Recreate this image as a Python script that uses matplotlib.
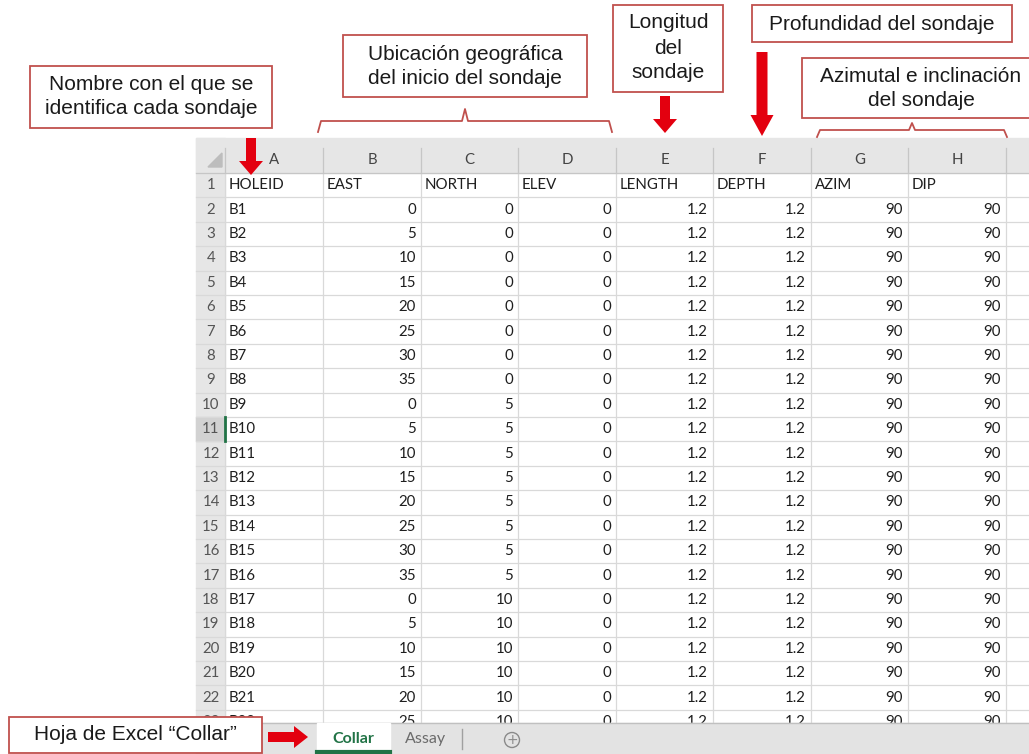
import matplotlib
matplotlib.use("Agg")
import matplotlib.pyplot as plt
from matplotlib.patches import Rectangle, FancyArrow, Circle

# Sheet data ("Collar"); the last hole (B22) is only half visible above the tab bar
col_letters = ['A', 'B', 'C', 'D', 'E', 'F', 'G', 'H']
headers = ['HOLEID', 'EAST', 'NORTH', 'ELEV', 'LENGTH', 'DEPTH', 'AZIM', 'DIP']
hole_ids = ['B1', 'B2', 'B3', 'B4', 'B5', 'B6', 'B7', 'B8', 'B9', 'B10', 'B11',
            'B12', 'B13', 'B14', 'B15', 'B16', 'B17', 'B18', 'B19', 'B20', 'B21', 'B22']
east = [0, 5, 10, 15, 20, 25, 30, 35, 0, 5, 10, 15, 20, 25, 30, 35, 0, 5, 10, 15, 20, 25]
north = [0, 0, 0, 0, 0, 0, 0, 0, 5, 5, 5, 5, 5, 5, 5, 5, 10, 10, 10, 10, 10, 10]
elev = [0, 0, 0, 0, 0, 0, 0, 0, 0, 0, 0, 0, 0, 0, 0, 0, 0, 0, 0, 0, 0, 0]
length = [1.2] * 22
depth = [1.2] * 22
azim = [90] * 22
dip = [90] * 22
sheet_tabs = ['Collar', 'Assay']

# Annotation texts
notes = {
    'nombre': 'Nombre con el que se\nidentifica cada sondaje',
    'ubicacion': 'Ubicación geográfica\ndel inicio del sondaje',
    'longitud': 'Longitud\ndel\nsondaje',
    'profundidad': 'Profundidad del sondaje',
    'azimutal': 'Azimutal e inclinación\ndel sondaje',
    'hoja': 'Hoja de Excel \u201cCollar\u201d',
}

# layout (pixels)
W, H = 1029, 754
col_edges = [225, 323, 421, 518, 616, 713, 811, 908, 1006, 1104]
sheet_left = 196
head_top = 138
row1_top = 173
row_h = 24.4
tab_top = 723

red = '#e3000f'
box_red = '#c0504d'
grid_c = '#d9d9d9'
head_bg = '#e6e6e6'
cell_font = 'Lato'
cell_size = 10.8
cell_c = '#1e1e1e'
note_font = 'Liberation Sans'
note_size = 15

fig = plt.figure(figsize=(W / 100, H / 100), dpi=100)
ax = fig.add_axes([0, 0, 1, 1])
ax.set_xlim(0, W)
ax.set_ylim(H, 0)
ax.axis('off')

# header band + row-number column
ax.add_patch(Rectangle((sheet_left, head_top), W - sheet_left, row1_top - head_top,
                       color=head_bg, zorder=1))
ax.add_patch(Rectangle((sheet_left, head_top), col_edges[0] - sheet_left, tab_top - head_top,
                       color=head_bg, zorder=1))
# corner triangle
ax.fill([208, 222, 222], [167, 153, 167], color='#bdbdbd', zorder=2)

for i, letter in enumerate(col_letters):
    x0, x1 = col_edges[i], col_edges[i + 1]
    ax.text((x0 + x1) / 2, 160, letter, ha='center', va='center', fontsize=cell_size,
            family=cell_font, color='#444444', zorder=3)
for x in col_edges:
    ax.plot([x, x], [148, row1_top], color='#c6c6c6', lw=0.9, zorder=2)
    ax.plot([x, x], [row1_top, tab_top], color=grid_c, lw=0.9, zorder=2)
ax.plot([sheet_left, W], [row1_top, row1_top], color='#c6c6c6', lw=0.9, zorder=2)

# clip areas for the half-hidden last row
clip_cells = Rectangle((col_edges[0], row1_top), W, tab_top - row1_top, transform=ax.transData)
clip_label = Rectangle((sheet_left, row1_top), 40, 717 - row1_top, transform=ax.transData)

# rows
columns = [hole_ids, east, north, elev, length, depth, azim, dip]
n_rows = len(hole_ids) + 1
for r in range(n_rows):
    top = row1_top + r * row_h
    yc = top + row_h / 2
    last = r == n_rows - 1
    ax.plot([sheet_left, W], [top + row_h, top + row_h], color=grid_c, lw=0.9, zorder=2)
    if r + 1 == 11:
        ax.add_patch(Rectangle((sheet_left, top), col_edges[0] - sheet_left, row_h,
                               color='#d2d2d2', zorder=1.5))
        ax.plot([col_edges[0], col_edges[0]], [top, top + row_h], color='#217346', lw=2, zorder=3)
    lab = ax.text(211, yc, str(r + 1), ha='center', va='center', fontsize=cell_size,
                  family=cell_font, color='#555555', zorder=3)
    if last:
        lab.set_clip_path(clip_label)
    if r == 0:
        for j, h in enumerate(headers):
            ax.text(col_edges[j] + 4, yc, h, ha='left', va='center', fontsize=cell_size,
                    family=cell_font, color=cell_c, zorder=3)
        continue
    k = r - 1
    for j, col in enumerate(columns):
        v = col[k]
        if j == 0:
            t = ax.text(col_edges[0] + 4, yc, v, ha='left', va='center', fontsize=cell_size,
                        family=cell_font, color=cell_c, zorder=3)
        else:
            t = ax.text(col_edges[j + 1] - 5, yc, f'{v:g}', ha='right', va='center',
                        fontsize=cell_size, family=cell_font, color=cell_c, zorder=3)
        if last:
            t.set_clip_path(clip_cells)

# tab bar
ax.add_patch(Rectangle((sheet_left, tab_top), W - sheet_left, H - tab_top, color='#e3e3e3', zorder=5))
ax.plot([sheet_left, W], [tab_top, tab_top], color='#c0c0c0', lw=1, zorder=6)
ax.add_patch(Rectangle((317, tab_top), 73, H - tab_top - 2, color='white', zorder=6))
ax.plot([317, 390], [752, 752], color='#217346', lw=3, zorder=7)
ax.text(353, 739, sheet_tabs[0], ha='center', va='center', fontsize=11.5, family=cell_font,
        fontweight='bold', color='#217346', zorder=7)
ax.text(426, 739, sheet_tabs[1], ha='center', va='center', fontsize=11.5, family=cell_font,
        color='#6b6b6b', zorder=7)
ax.plot([462, 462], [729, 749], color='#a0a0a0', lw=1, zorder=7)
ax.add_patch(Circle((512, 740), 7.5, fill=False, ec='#8a8a8a', lw=1, zorder=7))
ax.text(512, 740, '+', ha='center', va='center', fontsize=10, color='#8a8a8a', zorder=8)


def note_box(x0, y0, x1, y1, key, ys, cx=None):
    ax.add_patch(Rectangle((x0, y0), x1 - x0, y1 - y0, fc='white', ec=box_red, lw=1.3, zorder=9))
    cx = (x0 + x1) / 2 if cx is None else cx
    for line, y in zip(notes[key].split('\n'), ys):
        ax.text(cx, y, line, ha='center', va='center', fontsize=note_size, family=note_font,
                color='#1a1a1a', zorder=10)


def bracket(x0, x1, y, drop, rise):
    xm = (x0 + x1) / 2
    ax.plot([x0, x0 + 3, xm - 3, xm, xm + 3, x1 - 3, x1],
            [y + drop, y, y, y - rise, y, y, y + drop], color=box_red, lw=1.3, zorder=9)


note_box(30, 66, 272, 128, 'nombre', [85, 109])
note_box(343, 35, 587, 97, 'ubicacion', [54, 78])
note_box(613, 5, 723, 92, 'longitud', [23, 48, 73])
note_box(752, 5, 1012, 42, 'profundidad', [24])
note_box(802, 58, 1040, 118, 'azimutal', [77, 101], cx=921)
note_box(9, 717, 262, 753, 'hoja', [735])

bracket(318, 612, 121, 11, 12)
bracket(817, 1007, 130, 7, 7)

arrow_kw = dict(length_includes_head=True, color=red, zorder=11, lw=0)
ax.add_patch(FancyArrow(665, 96, 0, 37, width=10, head_width=24, head_length=14, **arrow_kw))
ax.add_patch(FancyArrow(762, 52, 0, 84, width=11, head_width=23, head_length=21, **arrow_kw))
ax.add_patch(FancyArrow(251, 138, 0, 37, width=10, head_width=24, head_length=14, **arrow_kw))
ax.add_patch(FancyArrow(268, 737, 40, 0, width=10, head_width=22, head_length=14, **arrow_kw))

fig.savefig('out.png', dpi=100, facecolor='white')
